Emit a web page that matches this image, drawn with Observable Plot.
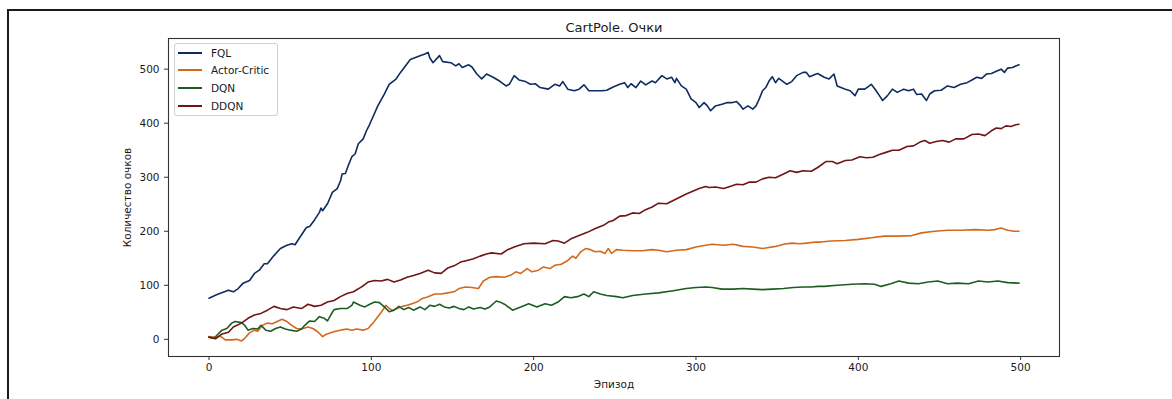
<!DOCTYPE html>
<html>
<head>
<meta charset="utf-8">
<script src="https://cdn.jsdelivr.net/npm/d3@7"></script>
<script src="https://cdn.jsdelivr.net/npm/@observablehq/plot@0.6"></script>
<style>
  html, body { margin: 0; padding: 0; background: #fff; overflow: hidden; }
  #wrap { position: relative; width: 1172px; height: 399px; overflow: hidden; font-family: "DejaVu Sans", sans-serif; }
  #outer { position: absolute; left: 7px; top: 9px; width: 1300px; height: 500px; border-top: 2px solid #1a1a1a; border-left: 2px solid #1a1a1a; pointer-events: none; }
  #legend { position: absolute; left: 174px; top: 43px; width: 104px; height: 73px; box-sizing: border-box;
            border: 1px solid #cfcfcf; border-radius: 3px; background: rgba(255,255,255,0.85); }
  .item { display: flex; align-items: center; height: 17.6px; font-size: 10.5px; color: #1a1a1a; }
  .swatch { display: block; width: 24px; height: 2px; margin-left: 3px; margin-right: 9px; }
</style>
</head>
<body>
<div id="wrap"><div id="outer"></div></div>
<script>
// ---------- data ----------
const titleText = "CartPole. Очки";
const xLabel = "Эпизод";
const yLabel = "Количество очков";
const xTicks = [0, 100, 200, 300, 400, 500];
const yTicks = [0, 100, 200, 300, 400, 500];
const names = ["FQL", "Actor-Critic", "DQN", "DDQN"];
const colors = ["#0f2c5e", "#d2691e", "#1b5e20", "#701515"];

const fqlEp = [0,5,12,15,18,21,25,28,31,34,36,40,44,48,51,53,56,60,62,65,68,69,70,73,76,79,81,82,84,86,88,90,92,95,97,99,104,108,111,115,118,121,124,130,133,135,136,138,142,144,149,152,154,156,160,162,165,168,171,175,179,183,185,188,191,195,198,201,204,209,213,216,218,221,225,228,231,234,238,242,245,249,253,256,258,260,263,266,269,273,275,279,282,285,287,288,291,294,297,300,302,305,307,309,312,316,319,322,325,327,329,332,335,337,339,341,343,345,347,349,351,356,359,362,366,368,370,374,375,379,382,385,387,392,395,398,400,404,408,411,413,415,418,421,424,428,431,434,436,439,442,444,447,451,455,459,463,467,470,473,476,479,482,485,488,490,492,495,497,499];
const fqlScore = [76,83,91,88,94,104,109,122,128,140,140,155,168,174,177,175,189,207,209,221,235,243,238,251,272,279,293,306,307,323,338,343,362,371,386,398,432,454,472,481,494,506,518,525,528,531,521,512,525,514,512,506,510,503,508,504,491,482,491,485,478,469,472,488,480,477,472,473,466,463,472,469,477,463,460,463,471,460,460,460,461,467,472,475,466,473,466,478,471,478,475,488,482,485,475,483,469,463,445,438,429,438,432,423,432,435,438,438,440,434,426,432,426,432,445,460,466,478,486,475,483,472,477,488,494,494,486,491,492,485,482,491,469,463,460,451,463,463,472,460,451,442,451,463,457,463,460,463,453,454,442,454,460,461,469,466,472,475,480,485,483,491,492,496,500,494,502,503,506,508];

const acEp = [0,4,7,10,14,17,20,22,25,28,30,33,36,39,42,45,48,51,54,57,61,64,67,70,72,75,78,81,85,88,91,95,98,101,104,107,109,111,113,116,119,122,125,128,131,135,139,143,147,151,154,158,162,166,169,173,177,182,186,189,192,196,199,203,206,210,213,217,221,224,226,229,232,235,238,241,244,246,248,251,255,261,267,273,277,282,288,294,300,306,310,317,323,329,335,341,345,349,354,359,364,368,374,377,383,392,400,408,416,424,433,439,447,455,463,472,480,484,488,492,496,499];
const acScore = [5,4,6,-1,-1,0,-3,2,12,17,15,26,30,29,33,37,33,26,20,19,23,20,14,5,9,12,15,17,19,17,19,17,20,30,42,54,63,57,54,57,61,63,66,69,75,79,84,84,86,88,94,97,96,94,108,115,116,115,119,125,122,131,125,128,134,131,137,139,146,154,150,162,168,166,162,163,159,168,159,166,165,164,164,166,165,162,165,166,171,174,176,174,176,172,171,168,170,172,176,178,177,178,180,180,182,183,185,188,191,191,192,197,200,202,202,203,202,203,206,202,200,200];

const dqnEp = [0,3,5,8,11,14,16,20,22,24,27,30,32,35,38,41,44,47,50,54,57,59,62,65,68,71,73,75,77,81,85,88,89,93,96,99,102,105,108,111,114,117,120,123,126,130,133,136,139,142,145,148,151,154,157,160,163,167,170,173,177,180,182,187,192,197,202,207,211,215,219,223,227,231,234,237,241,245,251,255,261,269,277,286,294,300,306,310,316,323,329,335,341,347,354,360,366,371,375,379,387,396,404,410,414,420,425,431,437,443,449,455,461,468,474,480,486,492,499];
const dqnScore = [4,2,8,17,20,30,33,31,26,17,20,19,26,17,15,20,23,19,17,15,19,26,34,33,42,39,34,45,55,57,57,63,69,63,60,65,69,68,60,51,54,61,55,59,54,60,55,63,61,65,60,58,61,57,55,60,56,59,56,60,71,68,65,54,60,66,60,66,63,69,79,77,79,84,79,88,84,81,79,77,81,84,86,90,94,96,97,96,93,93,94,93,92,93,94,96,97,97,98,98,100,102,103,102,98,103,108,104,103,106,108,103,104,103,108,106,108,105,104];

const ddqnEp = [0,4,8,12,15,20,24,28,32,36,40,44,48,52,57,61,65,69,73,77,81,85,89,94,98,102,106,110,114,118,122,126,130,135,139,143,147,151,155,159,163,167,171,174,180,184,188,194,200,207,212,215,219,223,228,233,238,243,246,249,253,257,261,265,269,273,277,282,286,290,294,298,302,306,308,312,317,321,325,329,333,337,341,345,349,354,358,362,366,371,375,380,384,387,392,396,401,405,409,413,417,421,425,430,434,438,441,444,448,452,456,460,465,470,474,478,482,485,488,491,494,497,499];
const ddqnScore = [4,1,10,13,23,30,39,45,48,54,61,57,55,60,57,65,61,63,69,72,79,85,88,97,106,109,108,111,106,110,115,118,122,128,123,122,132,136,143,146,149,154,158,160,158,166,171,177,178,177,183,182,178,186,192,198,205,211,217,220,228,229,234,233,240,245,252,251,257,263,269,274,279,283,281,282,279,283,287,286,291,291,297,300,299,306,312,309,312,311,318,329,329,325,331,332,338,336,337,342,346,350,350,357,358,365,368,363,366,368,365,371,371,379,380,377,386,391,390,395,394,397,398];

const seriesEp = [fqlEp, acEp, dqnEp, ddqnEp];
const seriesScore = [fqlScore, acScore, dqnScore, ddqnScore];

// ---------- table built from the arrays ----------
const rows = names.flatMap((name, k) =>
  seriesEp[k].map((e, i) => ({episode: e, score: seriesScore[k][i], algo: name})));

const chart = Plot.plot({
  width: 1172,
  height: 399,
  marginLeft: 168,
  marginRight: 113,
  marginTop: 38,
  marginBottom: 43,
  style: {fontFamily: "'DejaVu Sans', sans-serif", fontSize: "10.5px", color: "#1a1a1a", background: "white", overflow: "visible"},
  x: {domain: [-24.95, 523.95]},
  y: {domain: [-31.75, 556.75]},
  color: {domain: names, range: colors},
  marks: [
    Plot.line(rows, {x: "episode", y: "score", z: "algo", stroke: "algo", strokeWidth: 1.6, strokeLinejoin: "round"}),
    Plot.frame({stroke: "#333", strokeWidth: 1.1}),
    Plot.axisX({ticks: xTicks, tickSize: 4, tickPadding: 3, label: null, stroke: "#333"}),
    Plot.axisY({ticks: yTicks, tickSize: 4, tickPadding: 5, label: null, stroke: "#333"}),
    Plot.text([xLabel], {frameAnchor: "bottom", dy: 28, lineAnchor: "middle", textAnchor: "middle", fontSize: 10.5, fill: "#1a1a1a"}),
    Plot.text([yLabel], {frameAnchor: "left", dx: -41, rotate: -90, lineAnchor: "middle", textAnchor: "middle", fontSize: 10.5, fill: "#1a1a1a"}),
    Plot.text([titleText], {frameAnchor: "top", dy: -11, lineAnchor: "middle", textAnchor: "middle", fontSize: 13, fill: "#1a1a1a"})
  ]
});

const wrap = document.getElementById("wrap");
wrap.insertBefore(chart, wrap.firstChild);

// legend (matplotlib style box, upper left)
const legend = document.createElement("div");
legend.id = "legend";
names.forEach((n, k) => {
  const it = document.createElement("div");
  it.className = "item";
  const sw = document.createElement("span");
  sw.className = "swatch";
  sw.style.background = colors[k];
  const tx = document.createElement("span");
  tx.textContent = n;
  it.appendChild(sw);
  it.appendChild(tx);
  legend.appendChild(it);
});
wrap.appendChild(legend);
</script>
</body>
</html>
